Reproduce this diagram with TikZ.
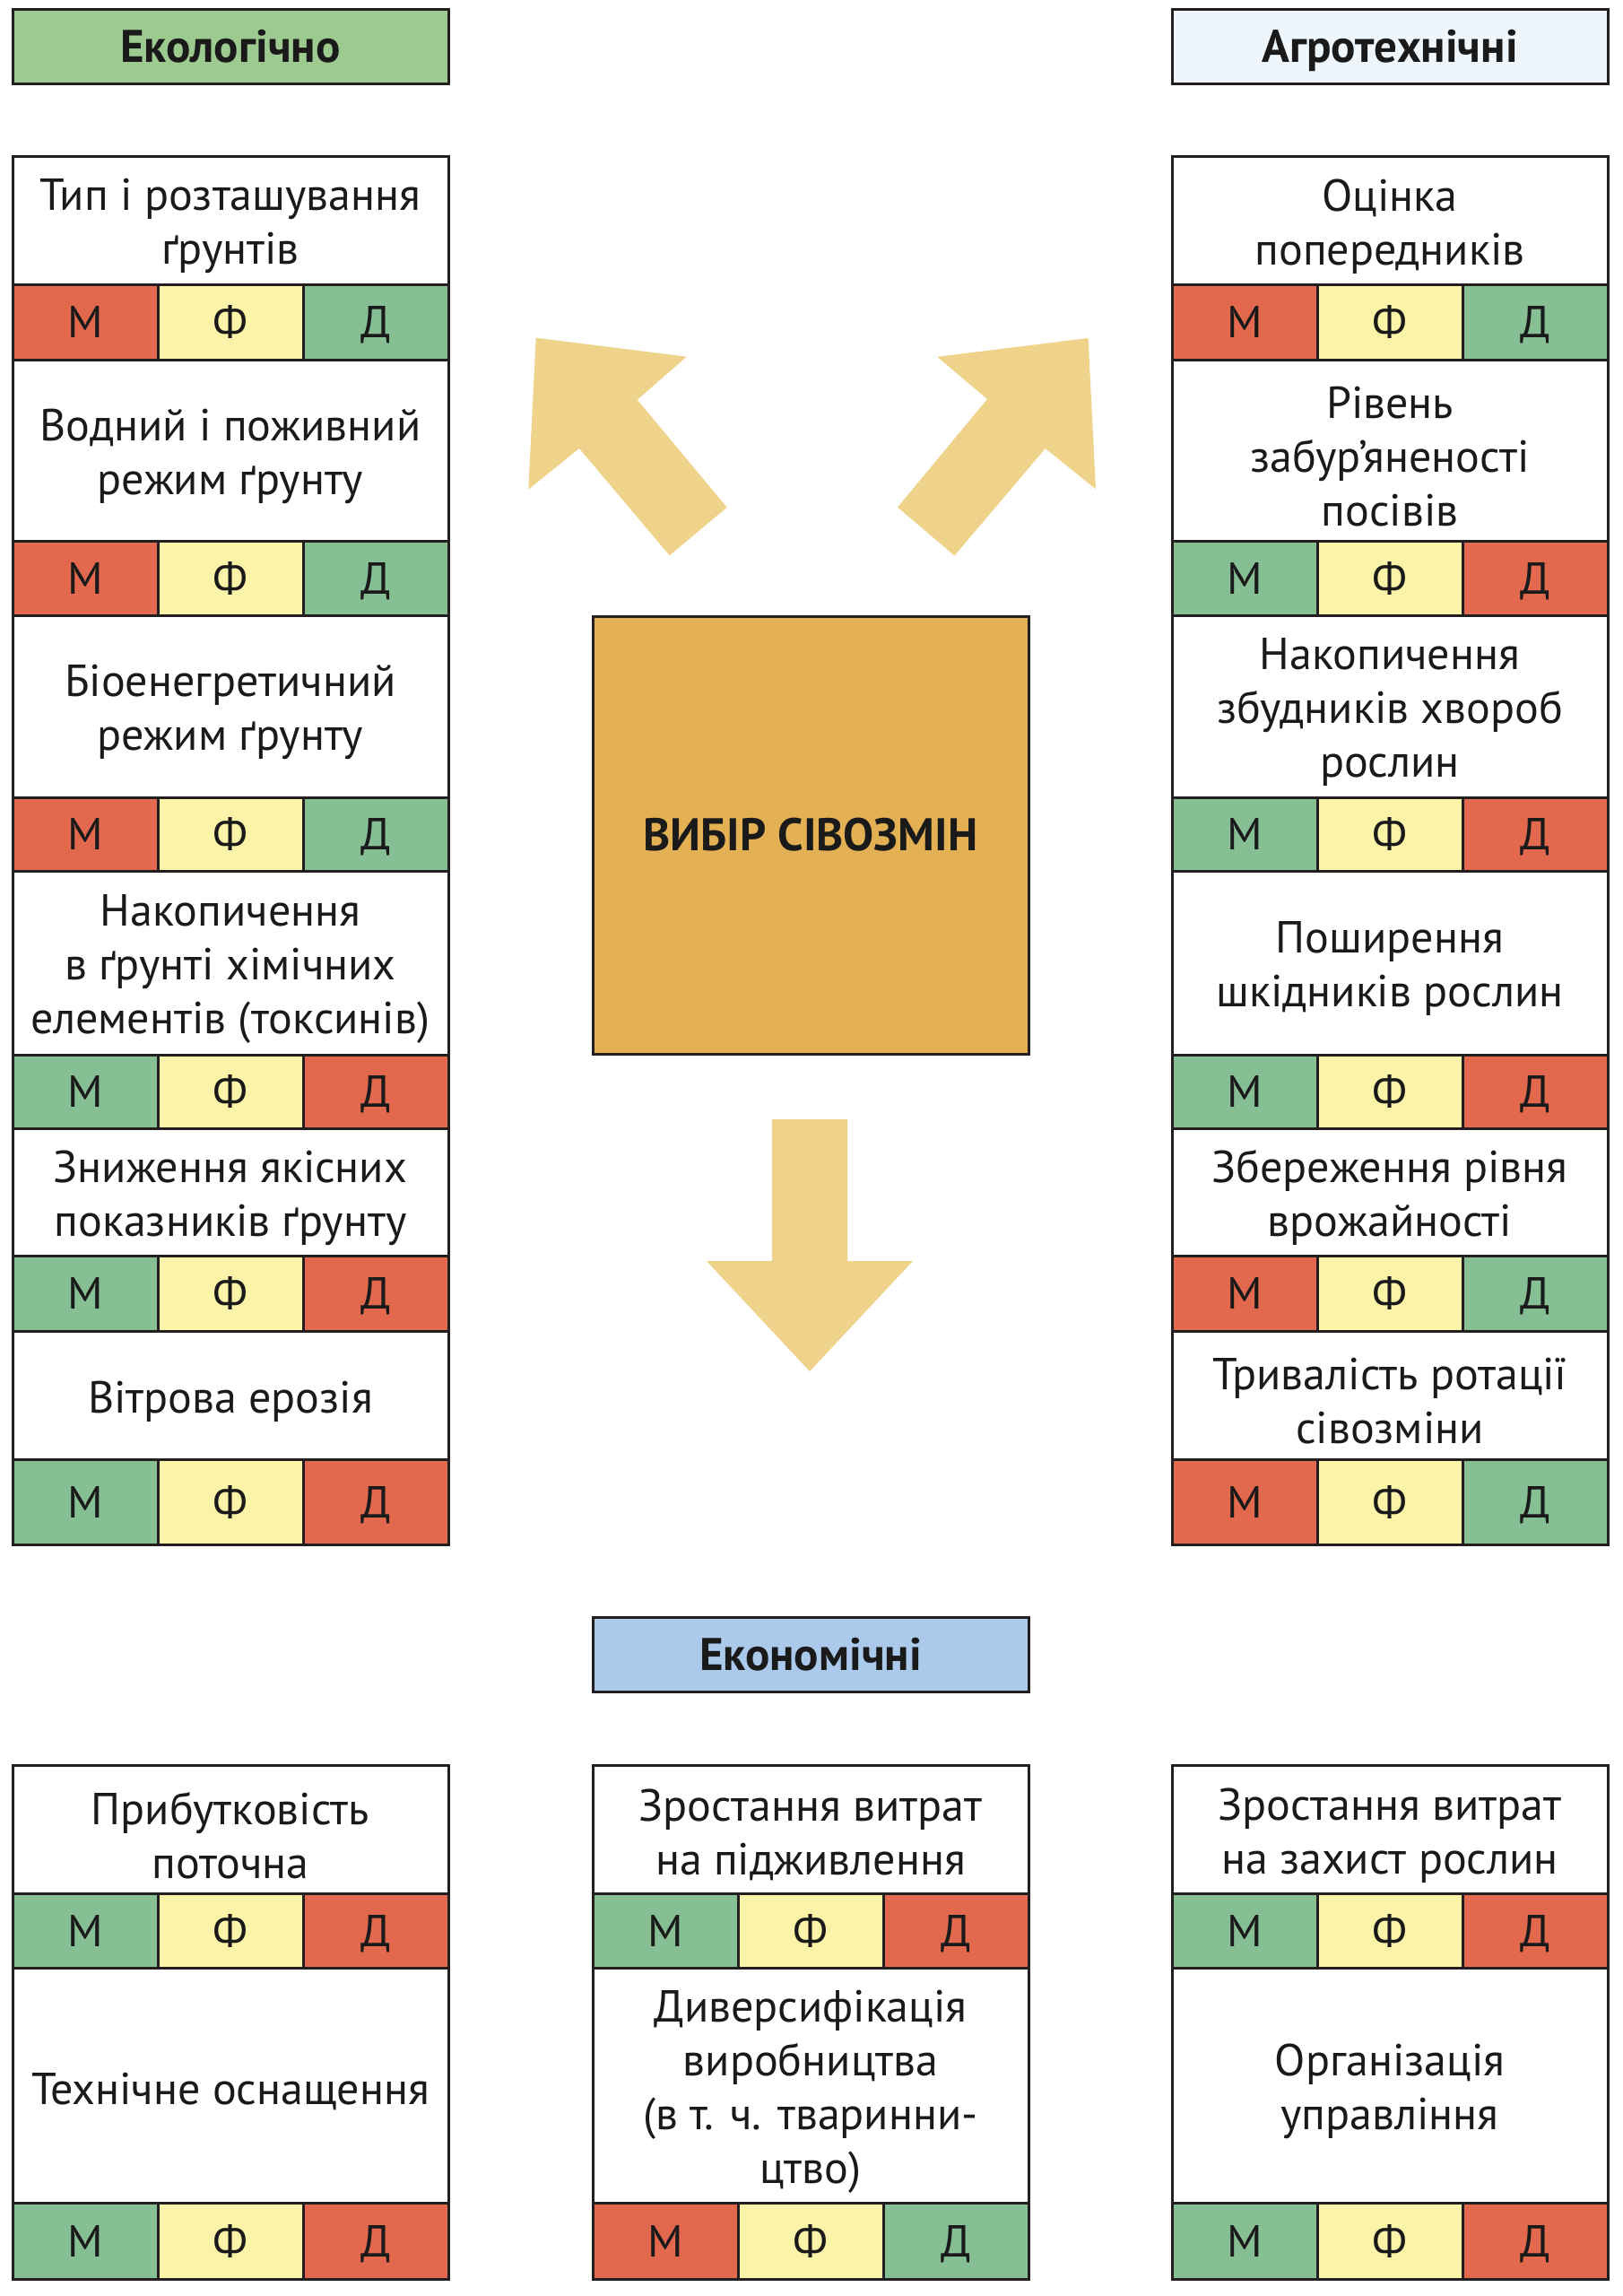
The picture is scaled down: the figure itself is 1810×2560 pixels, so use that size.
\documentclass[tikz,border=0pt]{standalone}
\usepackage{fontspec}
\setmainfont{PT Sans}
\definecolor{linec}{HTML}{231F20}
\definecolor{textc}{HTML}{1A1A1A}
\definecolor{cred}{HTML}{E2694E}
\definecolor{cyel}{HTML}{FAF3A8}
\definecolor{cgrn}{HTML}{87BF94}
\definecolor{hgreen}{HTML}{9DCA8E}
\definecolor{hlight}{HTML}{EEF5FB}
\definecolor{hblue}{HTML}{AAC9EB}
\definecolor{centc}{HTML}{E4B054}
\definecolor{arrc}{HTML}{F0D38A}
\tikzset{
  cellbase/.style={draw=linec, line width=1.5pt, inner sep=0pt, align=center, text=textc,
    font=\fontsize{25}{30}\selectfont},
  tcell/.style={cellbase, fill=white},
  celltext/.style={inner sep=0pt, align=center, text=textc, font=\fontsize{25}{30}\selectfont},
  mcell/.style={cellbase, minimum width=81pt, text height=17.5pt, text depth=0pt},
  hdr/.style={cellbase, minimum width=243pt, text height=17.9pt, text depth=0pt,
    font=\fontsize{25.5}{30}\bfseries\selectfont},
  centbox/.style={cellbase, fill=centc, text height=17.9pt, text depth=0pt,
    font=\fontsize{25.5}{30}\bfseries\selectfont},
  blockarrow/.style={fill=arrc}
}
\newcommand{\tcell}[5]{%
  \node[tcell, minimum width=243pt, minimum height={(#4-#3)*0.5pt}] (#1) at ({#2+243},{(#3+#4)/2}) {};
  \node[celltext, yshift=-3.4pt] (#1t) at (#1.center) {#5};}
\newcommand{\mrow}[7]{%
  \node[mcell, fill=#5, minimum height={(#4-#3)*0.5pt}] (#1m) at ({#2+81},{(#3+#4)/2}) {М};
  \node[mcell, fill=#6, minimum height={(#4-#3)*0.5pt}] (#1f) at ({#2+243},{(#3+#4)/2}) {Ф};
  \node[mcell, fill=#7, minimum height={(#4-#3)*0.5pt}] (#1d) at ({#2+405},{(#3+#4)/2}) {Д};}
\begin{document}
\begin{tikzpicture}[x=0.5pt,y=-0.5pt]
\fill[white] (0,0) rectangle (1810,2560);
\useasboundingbox (0,0) rectangle (1810,2560);

% headers
\node[hdr, fill=hgreen, minimum height=41.5pt] (hEco) at (257,51.5) {Екологічно};
\node[hdr, fill=hlight, minimum height=41.5pt] (hAgro) at (1550,51.5) {Агротехнічні};
\node[hdr, fill=hblue, minimum height=41.5pt] (hEcon) at (904,1844.5) {Економічні};

% central box
\node[centbox, minimum width=243pt, minimum height=244pt] (center) at (904,931) {ВИБІР СІВОЗМІН};

% block arrows
\fill[blockarrow] (597.7,376.7) -- (765.7,397.7) -- (710.7,445.7) -- (810.7,565.7)
  -- (746.7,619.3) -- (646,500) -- (589.3,545.7) -- cycle;
\fill[blockarrow] (1213.6,377) -- (1045.3,397.8) -- (1101,445) -- (1001,565.6)
  -- (1064.5,619.5) -- (1165.8,500) -- (1222,545.4) -- cycle;
\fill[blockarrow] (861,1248) -- (945,1248) -- (945,1406) -- (1018,1406) -- (903,1529)
  -- (788,1406) -- (861,1406) -- cycle;

% left column
\tcell{L1}{14}{174}{317}{Тип і розташування\\ґрунтів}
\mrow{L1}{14}{317}{401}{cred}{cyel}{cgrn}
\tcell{L2}{14}{401}{603}{Водний і поживний\\режим ґрунту}
\mrow{L2}{14}{603}{686}{cred}{cyel}{cgrn}
\tcell{L3}{14}{686}{889}{Біоенегретичний\\режим ґрунту}
\mrow{L3}{14}{889}{971}{cred}{cyel}{cgrn}
\tcell{L4}{14}{971}{1176}{Накопичення\\в ґрунті хімічних\\елементів (токсинів)}
\mrow{L4}{14}{1176}{1258}{cgrn}{cyel}{cred}
\tcell{L5}{14}{1258}{1400}{Зниження якісних\\показників ґрунту}
\mrow{L5}{14}{1400}{1484}{cgrn}{cyel}{cred}
\tcell{L6}{14}{1484}{1627}{Вітрова ерозія}
\mrow{L6}{14}{1627}{1722}{cgrn}{cyel}{cred}

% right column
\tcell{R1}{1307}{174}{317}{Оцінка\\попередників}
\mrow{R1}{1307}{317}{401}{cred}{cyel}{cgrn}
\tcell{R2}{1307}{401}{603}{Рівень\\забур'яненості\\посівів}
\mrow{R2}{1307}{603}{686}{cgrn}{cyel}{cred}
\tcell{R3}{1307}{686}{889}{Накопичення\\збудників хвороб\\рослин}
\mrow{R3}{1307}{889}{971}{cgrn}{cyel}{cred}
\tcell{R4}{1307}{971}{1176}{Поширення\\шкідників рослин}
\mrow{R4}{1307}{1176}{1258}{cgrn}{cyel}{cred}
\tcell{R5}{1307}{1258}{1400}{Збереження рівня\\врожайності}
\mrow{R5}{1307}{1400}{1484}{cred}{cyel}{cgrn}
\tcell{R6}{1307}{1484}{1627}{Тривалість ротації\\сівозміни}
\mrow{R6}{1307}{1627}{1722}{cred}{cyel}{cgrn}

% bottom row
\tcell{B1}{14}{1968}{2111}{Прибутковість\\поточна}
\mrow{B1}{14}{2111}{2194}{cgrn}{cyel}{cred}
\tcell{B2}{14}{2194}{2456}{Технічне оснащення}
\mrow{B2}{14}{2456}{2541}{cgrn}{cyel}{cred}

\tcell{M1}{661}{1968}{2111}{Зростання витрат\\на підживлення}
\mrow{M1}{661}{2111}{2194}{cgrn}{cyel}{cred}
\tcell{M2}{661}{2194}{2456}{Диверсифікація\\виробництва\\(в т. ч. тваринни-\\цтво)}
\mrow{M2}{661}{2456}{2541}{cred}{cyel}{cgrn}

\tcell{N1}{1307}{1968}{2111}{Зростання витрат\\на захист рослин}
\mrow{N1}{1307}{2111}{2194}{cgrn}{cyel}{cred}
\tcell{N2}{1307}{2194}{2456}{Організація\\управління}
\mrow{N2}{1307}{2456}{2541}{cgrn}{cyel}{cred}
\end{tikzpicture}
\end{document}
